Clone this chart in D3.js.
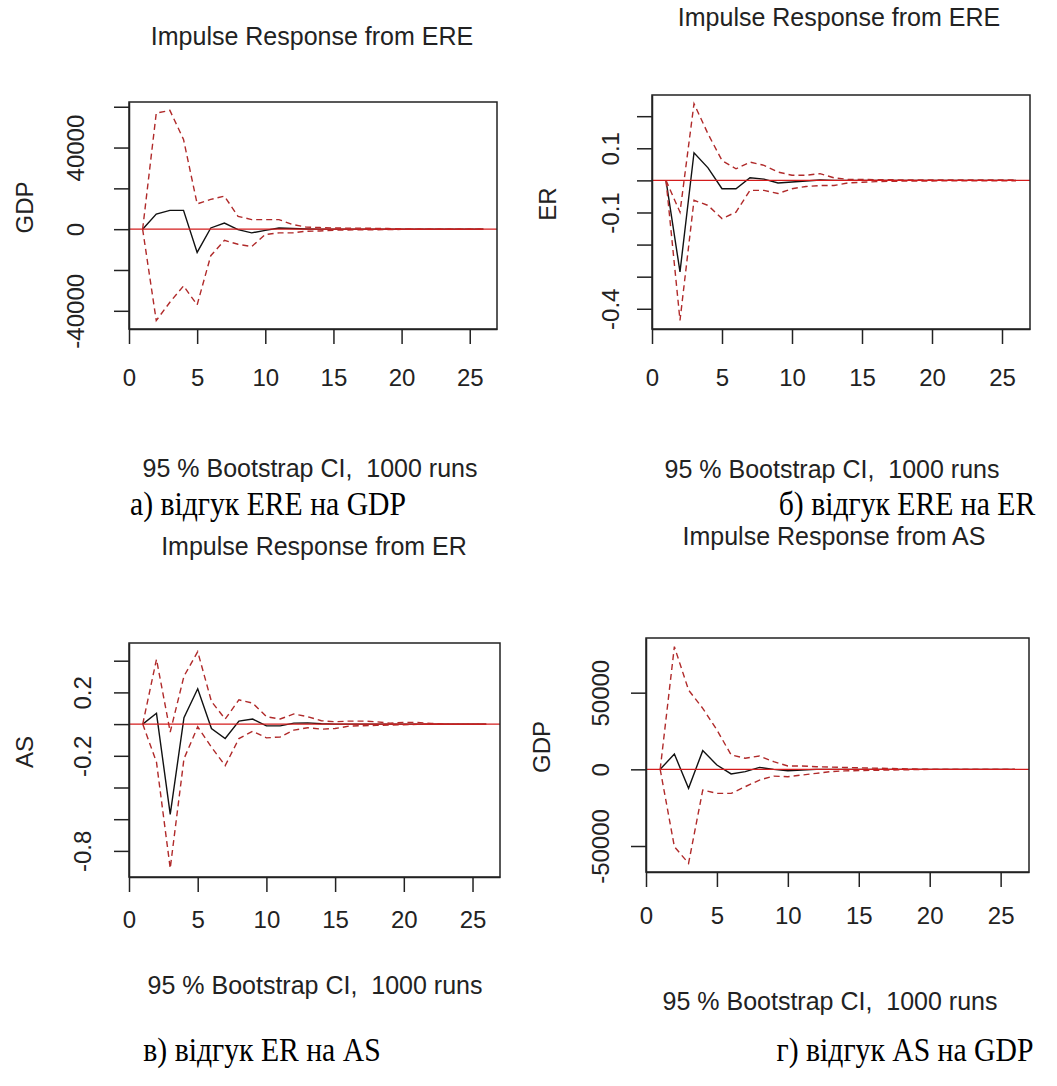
<!DOCTYPE html>
<html lang="uk">
<head>
<meta charset="utf-8">
<title>Impulse responses</title>
<script src="https://cdn.jsdelivr.net/npm/d3@7"></script>
<style>
html, body { margin: 0; padding: 0; background: #fff; overflow: hidden; }
.rtext { font-family: Arial, "Liberation Sans", sans-serif; fill: #222; white-space: pre; }
.cap { font-family: "Times New Roman", "Liberation Serif", serif; fill: #000; }
</style>
</head>
<body>
<div id="chart"></div>
<script>

// horizon (steps ahead)
var steps = [1,2,3,4,5,6,7,8,9,10,11,12,13,14,15,16,17,18,19,20,21,22,23,24,25,26];
var xTicks = [0, 5, 10, 15, 20, 25];

// a) ERE -> GDP
var gdpEreIrf   = [0, 7400, 9200, 9200, -11400, 600, 3000, -200, -1800, -600, 600, 300, 100, 0, 0, 0, 0, 0, 0, 0, 0, 0, 0, 0, 0, 0];
var gdpEreUpper = [0, 56900, 58200, 44000, 12400, 14600, 16200, 6300, 4700, 4700, 4700, 2300, 1000, 800, 600, 500, 500, 400, 300, 100, 0, 0, 0, 0, 0, 0];
var gdpEreLower = [0, -44800, -35800, -27800, -37100, -13000, -5500, -7400, -8500, -2600, -1800, -1800, -1000, -900, -500, -400, -300, -300, -200, -100, 0, 0, 0, 0, 0, 0];
var gdpEreTicks = [-40000, -20000, 0, 20000, 40000, 60000];
var gdpEreTickLabels = ["-40000", "", "0", "", "40000", ""];

// b) ERE -> ER
var erEreIrf   = [0, -0.285, 0.086, 0.039, -0.026, -0.026, 0.008, 0.004, -0.008, -0.005, -0.002, 0.001, 0, 0, 0, 0, 0, 0, 0, 0, 0, 0, 0, 0, 0, 0];
var erEreUpper = [0, -0.099, 0.239, 0.145, 0.062, 0.036, 0.057, 0.047, 0.026, 0.016, 0.016, 0.021, 0.008, 0.003, 0.003, 0.002, 0.002, 0.001, 0.001, 0.001, 0.001, 0.001, 0.001, 0.001, 0.001, 0.001];
var erEreLower = [0, -0.436, -0.062, -0.078, -0.119, -0.099, -0.031, -0.031, -0.041, -0.026, -0.019, -0.016, -0.016, -0.008, -0.006, -0.004, -0.003, -0.002, -0.002, -0.002, -0.001, -0.001, -0.001, -0.001, -0.001, -0.001];
var erEreTicks = [-0.4, -0.3, -0.2, -0.1, 0, 0.1, 0.2];
var erEreTickLabels = ["-0.4", "", "", "-0.1", "", "0.1", ""];

// c) ER -> AS
var asErIrf   = [0, 0.068, -0.570, 0.040, 0.223, -0.028, -0.091, 0.019, 0.032, -0.011, -0.011, 0.006, 0.008, 0.002, 0, 0, 0, 0, 0, 0, 0, 0, 0, 0, 0, 0];
var asErUpper = [0, 0.409, -0.050, 0.302, 0.457, 0.143, 0.032, 0.153, 0.132, 0.047, 0.032, 0.064, 0.047, 0.021, 0.015, 0.019, 0.019, 0.015, 0.006, 0.011, 0.011, 0.004, 0, 0, 0, 0];
var asErLower = [0, -0.240, -0.910, -0.219, -0.017, -0.145, -0.262, -0.091, -0.045, -0.087, -0.081, -0.038, -0.023, -0.032, -0.028, -0.013, -0.010, -0.008, -0.006, -0.004, -0.002, 0, 0, 0, 0, 0];
var asErTicks = [-0.8, -0.6, -0.4, -0.2, 0, 0.2, 0.4];
var asErTickLabels = ["-0.8", "", "", "-0.2", "", "0.2", ""];

// d) AS -> GDP
var gdpAsIrf   = [0, 10000, -12400, 12200, 2800, -3000, -1500, 1300, 0, -900, -400, 0, 0, 0, 0, 0, 0, 0, 0, 0, 0, 0, 0, 0, 0, 0];
var gdpAsUpper = [0, 80000, 51700, 39800, 25700, 9400, 7200, 8700, 5000, 2200, 2200, 1700, 1500, 1200, 1000, 800, 600, 400, 200, 0, 0, 0, 0, 0, 0, 0];
var gdpAsLower = [0, -50400, -61300, -13500, -15700, -15700, -11300, -7000, -4400, -4800, -3700, -2600, -1500, -1000, -800, -600, -500, -300, -200, 0, 0, 0, 0, 0, 0, 0];
var gdpAsTicks = [-50000, 0, 50000];
var gdpAsTickLabels = ["-50000", "0", "50000"];

var subTitle = "95 % Bootstrap CI,  1000 runs";

// layout of each plot box (pixels) and text positions
var panels = [
  { title: "Impulse Response from ERE", ylab: "GDP", irf: gdpEreIrf, upper: gdpEreUpper, lower: gdpEreLower,
    ticks: gdpEreTicks, tickLabels: gdpEreTickLabels, caption: "а) відгук ERE на GDP",
    box: [129, 102, 497, 329], titleAt: [312, 36], subAt: [310, 468], labOff: 54, xPad: 25, capAt: [268, 504] },
  { title: "Impulse Response from ERE", ylab: "ER", irf: erEreIrf, upper: erEreUpper, lower: erEreLower,
    ticks: erEreTicks, tickLabels: erEreTickLabels, caption: "б) відгук ERE на ER",
    box: [652, 95, 1030, 329], titleAt: [839, 17], subAt: [832, 469], labOff: 42, xPad: 25, capAt: [907, 504] },
  { title: "Impulse Response from ER", ylab: "AS", irf: asErIrf, upper: asErUpper, lower: asErLower,
    ticks: asErTicks, tickLabels: asErTickLabels, caption: "в) відгук ER на AS",
    box: [129, 643, 500, 877], titleAt: [314, 546], subAt: [315, 985], labOff: 47, xPad: 19, capAt: [262, 1050] },
  { title: "Impulse Response from AS", ylab: "GDP", irf: gdpAsIrf, upper: gdpAsUpper, lower: gdpAsLower,
    ticks: gdpAsTicks, tickLabels: gdpAsTickLabels, caption: "г) відгук AS на GDP",
    box: [646, 638, 1029, 872], titleAt: [834, 536], subAt: [830, 1001], labOff: 46, xPad: 20, capAt: [905, 1050] }
];

var w = 1057, h = 1086;
var fontSize = 24;
var titleSize = 25;

var svg = d3.select("#chart")
  .append("svg")
  .attr("width", w)
  .attr("height", h)
  .style("background", "#fff");

function drawPanel(p) {
  var left = p.box[0], top = p.box[1], right = p.box[2], bottom = p.box[3];

  // R style: xlim 1..26, y range of all series, both padded by 4%
  var allVals = p.irf.concat(p.upper, p.lower);
  var yMin = d3.min(allVals), yMax = d3.max(allVals);
  var yPad = (yMax - yMin) * 0.04;
  var xMin = d3.min(steps), xMax = d3.max(steps);
  var xPad = (xMax - xMin) * 0.04;

  var x = d3.scaleLinear().domain([xMin - xPad, xMax + xPad]).range([left, right]);
  var y = d3.scaleLinear().domain([yMin - yPad, yMax + yPad]).range([bottom, top]);

  var g = svg.append("g");

  var clipId = "clip" + left + "_" + top;
  g.append("clipPath").attr("id", clipId)
    .append("rect").attr("x", left).attr("y", top)
    .attr("width", right - left).attr("height", bottom - top);

  var line = d3.line()
    .x(function(d, i) { return x(steps[i]); })
    .y(function(d) { return y(d); });

  var plot = g.append("g").attr("clip-path", "url(#" + clipId + ")");

  // impulse response
  plot.append("path")
    .datum(p.irf)
    .attr("d", line)
    .attr("fill", "none")
    .attr("stroke", "#111")
    .attr("stroke-width", 1.4);

  // bootstrap bands
  [p.upper, p.lower].forEach(function(s) {
    plot.append("path")
      .datum(s)
      .attr("d", line)
      .attr("fill", "none")
      .attr("stroke", "#b02a2a")
      .attr("stroke-width", 1.4)
      .attr("stroke-dasharray", "6,4");
  });

  // zero line on top
  plot.append("line")
    .attr("x1", left).attr("x2", right)
    .attr("y1", y(0)).attr("y2", y(0))
    .attr("stroke", "#d41c1c")
    .attr("stroke-width", 1.4);

  // box
  g.append("rect")
    .attr("x", left).attr("y", top)
    .attr("width", right - left).attr("height", bottom - top)
    .attr("fill", "none")
    .attr("stroke", "#222")
    .attr("stroke-width", 1.5);

  // x axis
  var xAxis = d3.axisBottom(x).tickValues(xTicks).tickSize(15).tickSizeOuter(0).tickPadding(p.xPad);
  var xg = g.append("g").attr("transform", "translate(0," + bottom + ")").call(xAxis);

  // y axis, labels parallel to the axis
  var yAxis = d3.axisLeft(y).tickValues(p.ticks).tickSize(15).tickSizeOuter(0)
    .tickFormat(function(d, i) { return p.tickLabels[i]; });
  var yg = g.append("g").attr("transform", "translate(" + left + ",0)").call(yAxis);

  [xg, yg].forEach(function(a) {
    a.select(".domain").attr("stroke", "#222").attr("stroke-width", 1.5);
    a.selectAll(".tick line").attr("stroke", "#222").attr("stroke-width", 1.5);
    a.selectAll("text").attr("class", "rtext").style("font-size", fontSize + "px")
      .attr("fill", "#222");
  });

  yg.selectAll(".tick text")
    .attr("x", null).attr("dy", null)
    .attr("text-anchor", "middle")
    .attr("dominant-baseline", "central")
    .attr("transform", "translate(" + (-p.labOff) + ",0) rotate(-90)");

  // titles
  g.append("text").attr("class", "rtext")
    .attr("x", p.titleAt[0]).attr("y", p.titleAt[1])
    .attr("text-anchor", "middle").attr("dominant-baseline", "central")
    .style("font-size", titleSize + "px")
    .text(p.title);

  g.append("text").attr("class", "rtext")
    .attr("x", p.subAt[0]).attr("y", p.subAt[1])
    .attr("text-anchor", "middle").attr("dominant-baseline", "central")
    .style("font-size", titleSize + "px")
    .text(subTitle);

  g.append("text").attr("class", "rtext")
    .attr("text-anchor", "middle").attr("dominant-baseline", "central")
    .attr("transform", "translate(" + (left - 105) + "," + ((top + bottom) / 2 - 8) + ") rotate(-90)")
    .style("font-size", fontSize + "px")
    .text(p.ylab);

  // caption under each chart
  g.append("text").attr("class", "cap")
    .attr("text-anchor", "middle")
    .attr("dominant-baseline", "central")
    .attr("transform", "translate(" + p.capAt[0] + "," + p.capAt[1] + ") scale(0.9,1)")
    .style("font-size", "33px")
    .text(p.caption);
}

panels.forEach(drawPanel);

</script>
</body>
</html>
